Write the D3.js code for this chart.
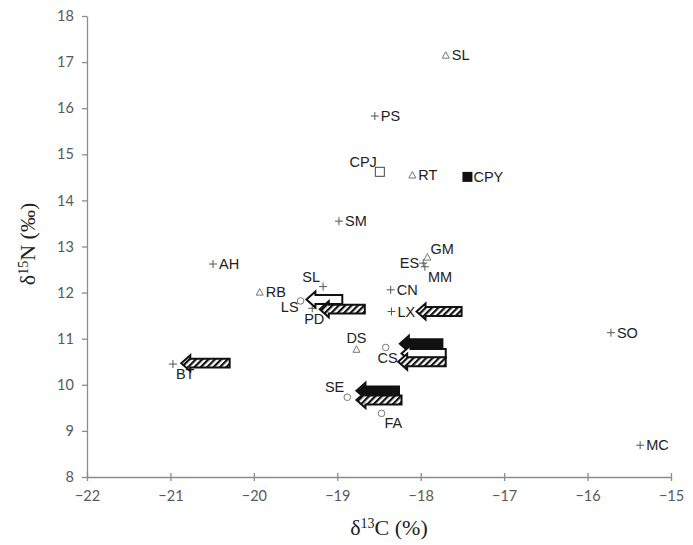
<!DOCTYPE html>
<html>
<head>
<meta charset="utf-8">
<script src="https://cdn.jsdelivr.net/npm/d3@7"></script>
<style>
  body { margin: 0; background: #fff; }
  .tick text { font-family: Lato, "Open Sans", sans-serif; font-size: 14.5px; fill: #595959; }
  .lbl { font-family: "Liberation Sans", Arial, sans-serif; font-size: 14.5px; fill: #222; }
  .title { font-family: "Liberation Serif", "Times New Roman", serif; font-size: 22px; fill: #222; }
</style>
</head>
<body>
<div id="chart"></div>
<script>
// species / sample codes
const names   = ["SL", "PS", "CPJ", "RT", "CPY", "SM", "GM", "ES", "MM", "CN", "LX", "AH", "RB", "SL", "LS", "PD", "DS", "CS", "SE", "FA", "BT", "SO", "MC"];
const d13C    = [-17.70, -18.55, -18.49, -18.10, -17.44, -18.98, -17.92, -17.97, -17.95, -18.36, -18.35, -20.49, -19.93, -19.17, -19.44, -19.30, -18.77, -18.42, -18.88, -18.47, -20.97, -15.72, -15.37];
const d15N    = [17.15, 15.83, 14.62, 14.55, 14.51, 13.55, 12.77, 12.64, 12.56, 12.06, 11.59, 12.62, 12.01, 12.13, 11.82, 11.66, 10.77, 10.81, 9.73, 9.38, 10.45, 11.13, 8.69];
const shapes  = ["tri", "plus", "sq", "tri", "sqfill", "plus", "tri", "plus", "plus", "plus", "plus", "plus", "tri", "plus", "circ", "plus", "tri", "circ", "circ", "circ", "plus", "plus", "plus"];
// label placement relative to the marker
const labelPos = ["r", "r", "tl", "r", "r", "r", "tr", "l", "br", "r", "r", "r", "r", "tl", "bl", "b", "t", "b", "tl", "br", "br", "r", "r"];

// shift arrows: head x, tail x, y, fill
const arrowHead = [-20.87, -19.37, -19.21, -18.05, -18.25, -18.23, -18.27, -18.77, -18.77];
const arrowTail = [-20.29, -18.94, -18.67, -17.51, -17.74, -17.70, -17.70, -18.26, -18.23];
const arrowY    = [10.47, 11.85, 11.64, 11.59, 10.89, 10.68, 10.50, 9.87, 9.67];
const arrowFill = ["hatch", "white", "hatch", "hatch", "black", "white", "hatch", "black", "hatch"];

const xTicks = [-22, -21, -20, -19, -18, -17, -16, -15];
const yTicks = [8, 9, 10, 11, 12, 13, 14, 15, 16, 17, 18];

const width = 693, height = 545;
const margin = { left: 87, right: 22, top: 16, bottom: 68 };

const svg = d3.select("#chart").append("svg")
    .attr("width", width)
    .attr("height", height);

const x = d3.scaleLinear().domain([-22, -15]).range([margin.left, width - margin.right]);
const y = d3.scaleLinear().domain([8, 18]).range([height - margin.bottom, margin.top]);

// hatch pattern for the striped arrows
const defs = svg.append("defs");
const pat = defs.append("pattern")
    .attr("id", "hatch")
    .attr("patternUnits", "userSpaceOnUse")
    .attr("width", 4.5).attr("height", 4.5)
    .attr("patternTransform", "rotate(45)");
pat.append("rect").attr("width", 4.5).attr("height", 4.5).attr("fill", "#fff");
pat.append("rect").attr("width", 2.2).attr("height", 4.5).attr("fill", "#111");

// axes
const xAxis = svg.append("g")
    .attr("transform", "translate(0," + y(8) + ")")
    .call(d3.axisBottom(x).tickValues(xTicks).tickFormat(d3.format("d")).tickSizeInner(4).tickSizeOuter(0));
xAxis.selectAll(".tick line").attr("y1", -4).attr("y2", 4);
xAxis.selectAll(".tick text").attr("dy", "1.2em");

const yAxis = svg.append("g")
    .attr("transform", "translate(" + x(-22) + ",0)")
    .call(d3.axisLeft(y).tickValues(yTicks).tickSizeInner(5).tickSizeOuter(0));
yAxis.selectAll(".tick text").attr("dx", "-0.35em");

svg.selectAll(".domain, .tick line").attr("stroke", "#8c8c8c").attr("stroke-width", 1.3);

// axis titles
const yt = svg.append("text").attr("class", "title")
    .attr("transform", "translate(35,244) rotate(-90)")
    .attr("text-anchor", "middle");
yt.append("tspan").text("δ");
yt.append("tspan").attr("font-size", "14px").attr("dy", "-7").text("15");
yt.append("tspan").attr("dy", "7").text("N (‰)");

const xt = svg.append("text").attr("class", "title")
    .attr("x", 389).attr("y", 535)
    .attr("text-anchor", "middle");
xt.append("tspan").text("δ");
xt.append("tspan").attr("font-size", "14px").attr("dy", "-7").text("13");
xt.append("tspan").attr("dy", "7").text("C (%)");

// points
const points = names.map(function(n, i) {
  return { name: n, cx: d13C[i], cy: d15N[i], shape: shapes[i], pos: labelPos[i] };
});

const node = svg.selectAll(".pt")
    .data(points)
    .enter()
    .append("g")
    .attr("class", "pt")
    .attr("transform", function(d) { return "translate(" + x(d.cx) + "," + y(d.cy) + ")"; });

node.each(function(d) {
  const g = d3.select(this);
  if (d.shape == "plus") {
    g.append("path").attr("d", "M-4,0H4M0,-4V4").attr("stroke", "#555").attr("stroke-width", 1);
  } else if (d.shape == "tri") {
    g.append("path").attr("d", "M0,-3.5L3.5,3L-3.5,3Z").attr("fill", "#fff").attr("stroke", "#777").attr("stroke-width", 1);
  } else if (d.shape == "circ") {
    g.append("circle").attr("r", 3.3).attr("fill", "#fff").attr("stroke", "#777").attr("stroke-width", 1);
  } else if (d.shape == "sq") {
    g.append("rect").attr("x", -4.5).attr("y", -4.5).attr("width", 9).attr("height", 9)
      .attr("fill", "#fff").attr("stroke", "#444").attr("stroke-width", 1);
  } else {
    g.append("rect").attr("x", -5).attr("y", -5).attr("width", 10).attr("height", 10).attr("fill", "#111");
  }
});

const offsets = {
  r:  { dx: 6,  dy: 5,   anchor: "start" },
  l:  { dx: -4, dy: 5,   anchor: "end" },
  tl: { dx: -3, dy: -5,  anchor: "end" },
  tr: { dx: 3,  dy: -3,  anchor: "start" },
  br: { dx: 3,  dy: 15,  anchor: "start" },
  bl: { dx: -2, dy: 11,  anchor: "end" },
  b:  { dx: 2,  dy: 16,  anchor: "middle" },
  t:  { dx: 0,  dy: -6,  anchor: "middle" }
};

node.append("text")
    .attr("class", "lbl")
    .attr("x", function(d) { return offsets[d.pos].dx; })
    .attr("y", function(d) { return offsets[d.pos].dy; })
    .attr("text-anchor", function(d) { return offsets[d.pos].anchor; })
    .text(function(d) { return d.name; });

// left pointing block arrows
const arrows = arrowHead.map(function(h, i) {
  return { head: h, tail: arrowTail[i], y: arrowY[i], fill: arrowFill[i] };
});

svg.selectAll(".arrow")
    .data(arrows)
    .enter()
    .append("path")
    .attr("class", "arrow")
    .attr("d", function(d) {
      const hx = x(d.head), tx = x(d.tail), cy = y(d.y);
      const hl = 9, bh = 4.4, hh = 8;
      return "M" + hx + "," + cy +
        "L" + (hx + hl) + "," + (cy - hh) +
        "L" + (hx + hl) + "," + (cy - bh) +
        "L" + tx + "," + (cy - bh) +
        "L" + tx + "," + (cy + bh) +
        "L" + (hx + hl) + "," + (cy + bh) +
        "L" + (hx + hl) + "," + (cy + hh) + "Z";
    })
    .attr("fill", function(d) {
      return d.fill == "hatch" ? "url(#hatch)" : (d.fill == "black" ? "#111" : "#fff");
    })
    .attr("stroke", "#111")
    .attr("stroke-width", 2)
    .attr("stroke-linejoin", "miter");
</script>
</body>
</html>
